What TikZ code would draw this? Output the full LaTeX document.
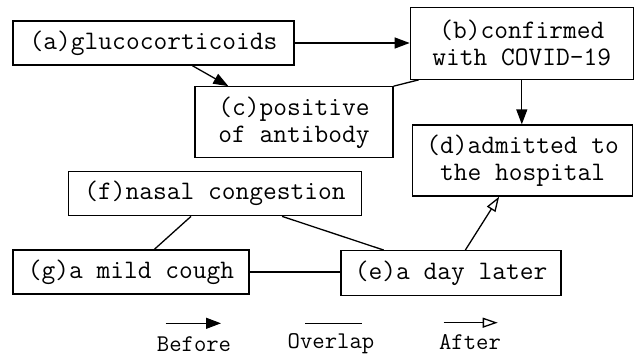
\documentclass[tikz,border=0pt]{standalone}
\usetikzlibrary{arrows.meta}
\begin{document}
\begin{tikzpicture}[x=1pt,y=-1pt,
  box/.style={draw,line width=1.3pt,inner sep=0pt,align=center,
    font=\ttfamily\fontsize{26.7}{27}\selectfont},
  conn/.style={line width=1.3pt},
  before/.style={conn,-{Triangle[length=15pt,width=11pt]}},
  after/.style={conn,-{Triangle[open,length=15pt,width=10pt]}},
  legtext/.style={font=\ttfamily\fontsize{24}{24}\selectfont,inner sep=0pt}]
\useasboundingbox (0,0) rectangle (636,356);
\node[box,minimum width=281pt,minimum height=44pt] (a) at (153.5,43) {(a)glucocorticoids};
\node[box,minimum width=223pt,minimum height=72pt] (b) at (521.8,43.2) {(b)confirmed\\with COVID-19};
\node[box,minimum width=198pt,minimum height=71pt] (c) at (294,122.3) {(c)positive\\of antibody};
\node[box,minimum width=220pt,minimum height=71pt] (d) at (522.5,160.5) {(d)admitted to\\the hospital};
\node[box,minimum width=293.4pt,minimum height=44pt] (f) at (215,193.7) {(f)nasal congestion};
\node[box,minimum width=236pt,minimum height=44pt] (g) at (131,272) {(g)a mild cough};
\node[box,minimum width=220pt,minimum height=44.6pt] (e) at (451,273) {(e)a day later};
\draw[before] (a.east) -- (a.east -| b.west);
\draw[before] ([xshift=180pt]a.south west) -- ([xshift=34pt]c.north west);
\draw[conn] (c.north east) -- ([xshift=9pt]b.south west);
\draw[before] (b.south) -- (b.south |- d.north);
\draw[conn] ([xshift=123.4pt]f.south west) -- ([xshift=142pt]g.north west);
\draw[conn] ([xshift=214.4pt]f.south west) -- ([xshift=43.3pt]e.north west);
\draw[conn] (g.east) -- (g.east -| e.west);
\draw[after] ([xshift=125pt]e.north west) -- ([xshift=87.3pt]d.south west);
% legend
\coordinate (l1a) at (165.7,323.3);
\coordinate (l1b) at (221,323.3);
\coordinate (l2a) at (305,323.3);
\coordinate (l2b) at (362,323.3);
\coordinate (l3a) at (443.7,322.7);
\coordinate (l3b) at (497.7,322.7);
\draw[before] (l1a) -- (l1b);
\draw[conn] (l2a) -- (l2b);
\draw[after] (l3a) -- (l3b);
\node[legtext] (t1) at (194,344) {Before};
\node[legtext] (t2) at (331,344) {Overlap};
\node[legtext] (t3) at (470,342) {After};
\end{tikzpicture}
\end{document}
